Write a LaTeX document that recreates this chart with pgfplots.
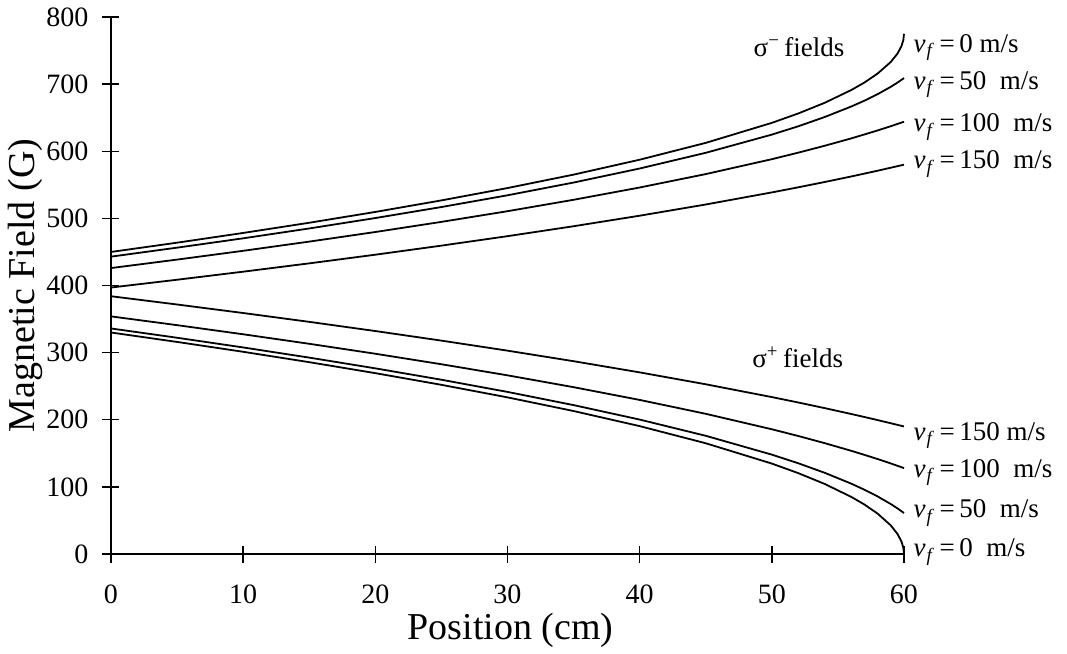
\documentclass[border=0pt]{standalone}
\usepackage{pgfplots}
\pgfplotsset{compat=1.18}
\usepackage{fontspec}
\setmainfont{Liberation Serif}
\newcommand{\vf}{\textit{v}\kern0.5pt\textsubscript{\textit{f}}\,=\,}
\begin{document}
\begin{tikzpicture}
\begin{axis}[
  scale only axis, width=396.5pt, height=268.5pt,
  at={(0,0)}, anchor=origin,
  xmin=0, xmax=60, ymin=0, ymax=800,
  axis x line=bottom, axis y line=left,
  axis line style={-, line width=0.7pt},
  xtick={0,10,...,60}, ytick={0,100,...,800},
  tick align=center, major tick length=8.5pt,
  tick style={black, line width=0.7pt},
  /pgf/number format/assume math mode=true,
  tick label style={font=\fontsize{14}{16}\selectfont},
  xticklabel style={anchor=north, yshift=-7.5pt},
  yticklabel style={anchor=east, xshift=-3.5pt},
  every axis x label/.style={at={(axis description cs:0.504,-0.1415)}, anchor=center},
  every axis y label/.style={at={(axis description cs:-0.1085,0.5)}, rotate=90, anchor=center},
  label style={font=\fontsize{19}{22}\selectfont},
  xlabel={Position (cm)}, ylabel={Magnetic Field (G)},
  clip=false,
  cycle list={{black, solid}},
  every axis plot post/.append style={black, solid, line width=0.9pt, no markers},
]
% sigma+ fields
\addplot coordinates {(0,330)(5,315.95)(10,301.25)(15,285.79)(20,269.44)(25,252.04)(30,233.35)(35,213.01)(40,190.53)(45,165)(50,134.72)(52,120.5)(54,104.36)(56,85.2)(57,73.79)(58,60.25)(59,42.6)(59.5,30.12)(59.8,19.05)(59.95,9.53)(60,0)};
\addplot coordinates {(0,336)(5,322.18)(10,307.73)(15,292.58)(20,276.59)(25,259.63)(30,241.47)(35,221.84)(40,200.28)(45,176.11)(50,148.04)(52,135.2)(54,120.99)(56,104.88)(57,95.82)(58,85.8)(59,74.44)(59.5,68.06)(60,61)};
\addplot coordinates {(0,354)(5,340.94)(10,327.35)(15,313.18)(20,298.34)(25,282.71)(30,266.18)(35,248.54)(40,229.55)(45,208.85)(50,185.85)(52,175.81)(54,165.16)(56,153.77)(57,147.75)(58,141.47)(59,134.9)(60,128)};
\addplot coordinates {(0,384)(5,371.72)(10,359.02)(15,345.86)(20,332.17)(25,317.9)(30,302.95)(35,287.23)(40,270.59)(45,252.86)(50,233.79)(52,225.72)(54,217.34)(56,208.62)(57,204.13)(58,199.53)(59,194.82)(60,190)};
% sigma- fields
\addplot coordinates {(0,450)(5,463.8)(10,478.3)(15,493.5)(20,509.6)(25,526.8)(30,545.2)(35,565.2)(40,587.4)(45,612.5)(50,642.3)(52,656.3)(54,672.2)(56,691.1)(57,702.3)(58,715.7)(59,733.0)(59.5,745.3)(59.8,756.2)(59.95,765.6)(60,775)};
\addplot coordinates {(0,443)(5,456.4)(10,470.3)(15,485.0)(20,500.5)(25,516.9)(30,534.4)(35,553.4)(40,574.3)(45,597.7)(50,624.8)(52,637.2)(54,651.0)(56,666.6)(57,675.3)(58,685.0)(59,696.0)(59.5,702.2)(60,709)};
\addplot coordinates {(0,426)(5,438.6)(10,451.7)(15,465.4)(20,479.7)(25,494.8)(30,510.7)(35,527.7)(40,546.0)(45,566.0)(50,588.2)(52,597.9)(54,608.2)(56,619.1)(57,625.0)(58,631.0)(59,637.3)(60,644)};
\addplot coordinates {(0,397)(5,408.6)(10,420.6)(15,433.0)(20,445.9)(25,459.4)(30,473.5)(35,488.3)(40,504.0)(45,520.7)(50,538.7)(52,546.3)(54,554.2)(56,562.4)(57,566.7)(58,571.0)(59,575.5)(60,580)};
% annotations
\begin{scope}[every node/.style={anchor=west, inner sep=0pt, font=\fontsize{13.5}{16}\selectfont}]
\node at (axis cs:48.6,755) {σ\textsuperscript{−}\,fields};
\node at (axis cs:48.5,293) {σ\textsuperscript{+}\,fields};
\node at (axis cs:60.7,755) {\vf 0 m/s};
\node at (axis cs:60.7,699) {\vf 50\ \ m/s};
\node at (axis cs:60.7,636) {\vf 100\ \ m/s};
\node at (axis cs:60.7,581) {\vf 150\ \ m/s};
\node at (axis cs:60.7,177) {\vf 150 m/s};
\node at (axis cs:60.7,121) {\vf 100\ \ m/s};
\node at (axis cs:60.7,61) {\vf 50\ \ m/s};
\node at (axis cs:60.7,3) {\vf 0\ \ m/s};
\end{scope}
\end{axis}
\path (-55.5pt,-49.5pt) rectangle (478pt,277pt);
\end{tikzpicture}
\end{document}
